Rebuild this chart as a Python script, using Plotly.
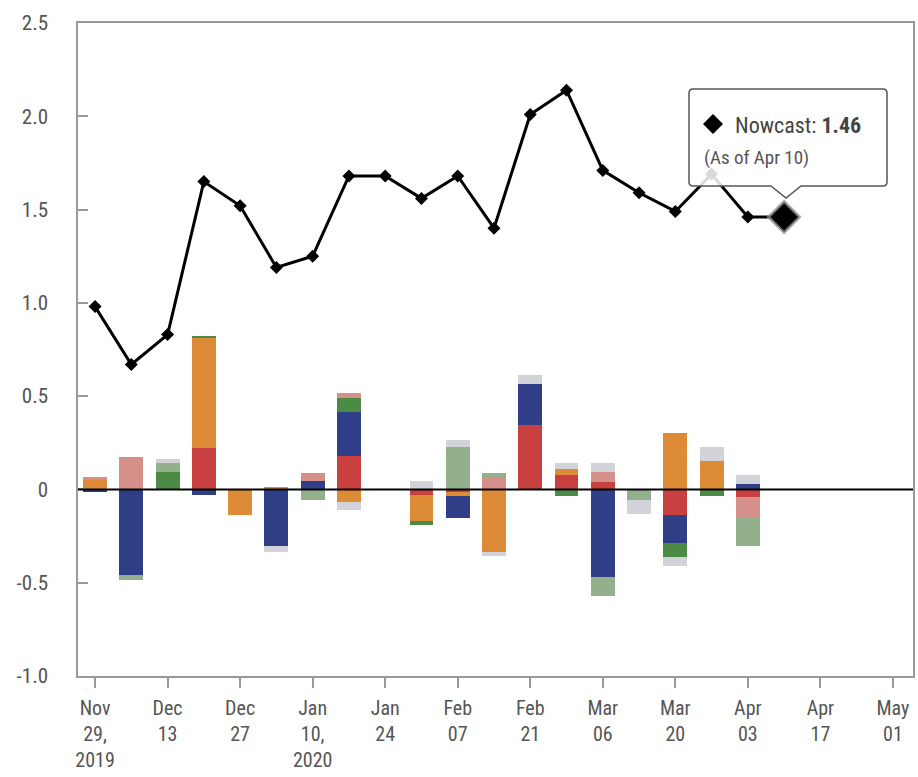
import plotly.graph_objects as go

# ---------------- data ----------------
weeks = ["2019-11-29", "2019-12-06", "2019-12-13", "2019-12-20", "2019-12-27",
         "2020-01-03", "2020-01-10", "2020-01-17", "2020-01-24", "2020-01-31",
         "2020-02-07", "2020-02-14", "2020-02-21", "2020-02-28", "2020-03-06",
         "2020-03-13", "2020-03-20", "2020-03-27", "2020-04-03", "2020-04-10"]
nowcast = [0.98, 0.67, 0.83, 1.65, 1.52, 1.19, 1.25, 1.68, 1.68, 1.56,
           1.68, 1.40, 2.01, 2.14, 1.71, 1.59, 1.49, 1.69, 1.46, 1.46]

bar_weeks = weeks[:19]
red =    [0, 0, 0, 0.22, 0, 0, 0, 0.177, 0, -0.029, -0.015, 0, 0.348, 0.08, 0.0375, 0, -0.136, 0, -0.039]
orange = [0.05, 0, 0, 0.594, -0.136, 0.012, 0, -0.07, 0, -0.139, -0.022, -0.337, 0, 0.032, 0, 0, 0.305, 0.155, 0]
blue =   [-0.015, -0.459, 0, -0.029, 0, -0.305, 0.046, 0.236, 0, 0, -0.118, 0, 0.216, 0, -0.468, 0, -0.15, 0, 0.027]
green =  [0, 0, 0.091, 0.006, 0, 0, 0, 0.075, 0, -0.02, 0, 0, 0, -0.0375, 0, 0, -0.077, -0.036, 0]
salmon = [0.015, 0.175, 0, 0, 0, 0, 0.043, 0.03, 0, 0, 0, 0.059, 0, 0, 0.054, 0, 0, 0, -0.107]
sage =   [0, -0.027, 0.05, 0, 0, 0, -0.057, 0, 0, 0, 0.23, 0.03, 0, 0, -0.105, -0.057, 0, 0, -0.159]
gray =   [0, 0, 0.021, 0, 0, -0.029, 0, -0.041, 0, 0.046, 0.034, -0.018, 0.05, 0.03, 0.052, -0.075, -0.05, 0.075, 0.052]

tick_dates = ["2019-11-29", "2019-12-13", "2019-12-27", "2020-01-10", "2020-01-24",
              "2020-02-07", "2020-02-21", "2020-03-06", "2020-03-20", "2020-04-03",
              "2020-04-17", "2020-05-01"]
tick_labels = ["Nov<br>29,<br>2019", "Dec<br>13", "Dec<br>27", "Jan<br>10,<br>2020", "Jan<br>24",
               "Feb<br>07", "Feb<br>21", "Mar<br>06", "Mar<br>20", "Apr<br>03", "Apr<br>17", "May<br>01"]
y_ticks = [2.5, 2.0, 1.5, 1.0, 0.5, 0, -0.5, -1.0]
y_tick_labels = ["2.5", "2.0", "1.5", "1.0", "0.5", "0", "-0.5", "-1.0"]
tooltip_date = "Apr 10"

# ---------------- figure ----------------
FONT = "Roboto Condensed, Liberation Sans Narrow, Roboto, sans-serif"
W, H = 918, 777
L, R, T, B = 78, 5, 23, 101

def px(x):
    return (x - L) / (W - L - R)

def py(y):
    return (H - B - y) / (H - T - B)

fig = go.Figure()
series = [("red", red, "#C8403F"), ("orange", orange, "#DD8B37"), ("blue", blue, "#2F3E86"),
          ("green", green, "#4B8B46"), ("salmon", salmon, "#D6908A"), ("sage", sage, "#93B08D"),
          ("gray", gray, "#D2D3D8")]
bar_w = 4.6 * 86400000
for name, vals, col in series:
    fig.add_trace(go.Bar(x=bar_weeks, y=vals, name=name, marker_color=col,
                         marker_line_width=0, width=bar_w))

fig.add_trace(go.Scatter(x=weeks[:-1], y=nowcast[:-1], mode="lines+markers",
                         line=dict(color="black", width=3),
                         marker=dict(symbol="diamond", size=10, color="black")))
fig.add_trace(go.Scatter(x=weeks[-2:], y=nowcast[-2:], mode="lines",
                         line=dict(color="black", width=3)))
fig.add_trace(go.Scatter(x=weeks[-1:], y=nowcast[-1:], mode="markers",
                         marker=dict(symbol="diamond", size=24, color="black",
                                     line=dict(color="rgba(150,150,150,0.7)", width=3))))

# zero line
fig.add_shape(type="line", xref="paper", yref="y", x0=0, x1=1, y0=0, y1=0,
              line=dict(color="black", width=2), layer="above")

# tooltip box with pointer
x0, x1, y0, y1 = 689, 887, 89, 186
ax, ay = 786, 198
r = 4
path = (f"M {px(x0+r)},{py(y0)} L {px(x1-r)},{py(y0)} Q {px(x1)},{py(y0)} {px(x1)},{py(y0+r)} "
        f"L {px(x1)},{py(y1-r)} Q {px(x1)},{py(y1)} {px(x1-r)},{py(y1)} "
        f"L {px(ax+15)},{py(y1)} L {px(ax)},{py(ay)} L {px(ax-15)},{py(y1)} "
        f"L {px(x0+r)},{py(y1)} Q {px(x0)},{py(y1)} {px(x0)},{py(y1-r)} "
        f"L {px(x0)},{py(y0+r)} Q {px(x0)},{py(y0)} {px(x0+r)},{py(y0)} Z")
fig.add_shape(type="path", xref="paper", yref="paper", path=path,
              fillcolor="rgba(255,255,255,0.85)", line=dict(color="#555", width=1.5),
              layer="above")
# legend-like diamond symbol in tooltip
cx, cy, d = 713, 124, 10
dpath = (f"M {px(cx)},{py(cy-d)} L {px(cx+d)},{py(cy)} L {px(cx)},{py(cy+d)} "
         f"L {px(cx-d)},{py(cy)} Z")
fig.add_shape(type="path", xref="paper", yref="paper", path=dpath,
              fillcolor="black", line=dict(width=0), layer="above")
fig.add_annotation(xref="paper", yref="paper", x=px(733), y=py(125),
                   text=f"Nowcast: <b>{nowcast[-1]:.2f}</b>",
                   showarrow=False, xanchor="left", yanchor="middle",
                   font=dict(family=FONT, size=22, color="#444"))
fig.add_annotation(xref="paper", yref="paper", x=px(702), y=py(157),
                   text=f"(As of {tooltip_date})",
                   showarrow=False, xanchor="left", yanchor="middle",
                   font=dict(family=FONT, size=19, color="#555"))

fig.update_layout(
    width=W, height=H, margin=dict(l=L, r=R, t=T, b=B, autoexpand=False),
    barmode="relative", bargap=0, showlegend=False,
    plot_bgcolor="white", paper_bgcolor="white",
    font=dict(family=FONT, size=21, color="#555"),
    hovermode=False,
)
fig.update_xaxes(type="date", range=["2019-11-25 17:00", "2020-05-04 21:00"],
                 tickvals=tick_dates, ticktext=tick_labels, automargin=False,
                 ticks="outside", ticklen=10, tickcolor="#999", tickwidth=1.5,
                 showline=True, linecolor="#999", linewidth=1.5, mirror=True,
                 showgrid=False, zeroline=False, ticklabelstandoff=3,
                 tickfont=dict(size=20, color="#555"))
fig.update_yaxes(range=[-1.0, 2.5], tickvals=y_ticks, ticktext=y_tick_labels,
                 automargin=False,
                 ticks="inside", ticklen=10, tickcolor="#999", tickwidth=1.5,
                 showline=True, linecolor="#999", linewidth=1.5, mirror=True,
                 showgrid=False, zeroline=False, ticklabelstandoff=24,
                 tickfont=dict(size=21, color="#555"))

fig.write_html("out.html", config={"displayModeBar": False},
               post_script="document.body.style.margin='0';")
